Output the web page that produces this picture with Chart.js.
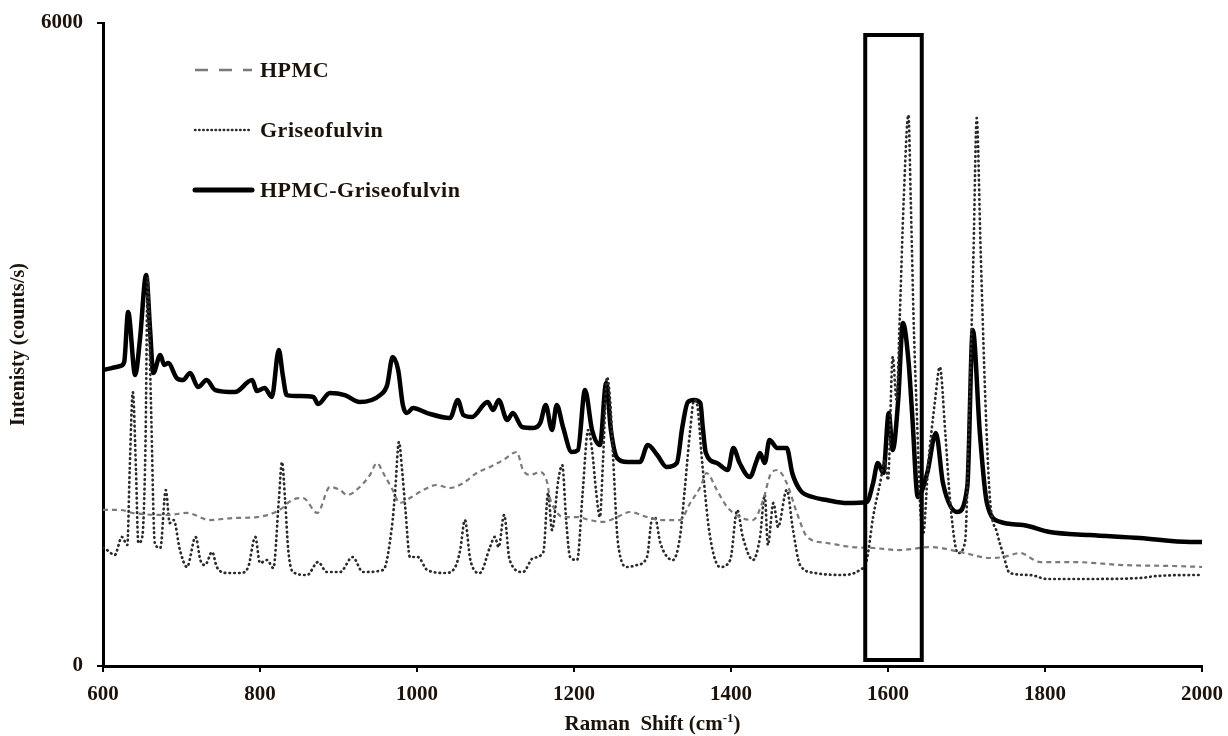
<!DOCTYPE html>
<html>
<head>
<meta charset="utf-8">
<script src="https://cdn.jsdelivr.net/npm/chart.js@4.4.0/dist/chart.umd.min.js"></script>
<style>
  html, body { margin: 0; padding: 0; background: #fff; }
  #wrap { width: 1228px; height: 736px; }
</style>
</head>
<body>
<div id="wrap"><canvas id="ramanChart" width="1228" height="736"></canvas></div>
<script>
// Raman shift (cm-1) / intensity (counts/s)
const hpmcShift = [600,622,638,682,707,736,766,796,825,841,855,873,889,902,911,927,940,949,957,969,978,991,1008,1025,1042,1059,1076,1093,1110,1127,1135,1144,1157,1166,1169,1176,1186,1204,1220,1237,1255,1271,1293,1310,1335,1348,1361,1369,1382,1395,1411,1428,1441,1450,1459,1471,1484,1497,1522,1555,1581,1615,1654,1692,1730,1747,1768,1794,1836,1899,1963,2000];
const hpmcIntensity = [1456,1456,1428,1409,1428,1362,1381,1390,1456,1549,1567,1428,1670,1642,1596,1670,1782,1894,1801,1642,1521,1567,1642,1689,1661,1707,1801,1857,1922,1997,1829,1782,1810,1707,1577,1456,1390,1390,1362,1344,1390,1437,1390,1362,1362,1521,1670,1801,1642,1484,1390,1362,1549,1782,1829,1707,1428,1204,1148,1110,1101,1082,1110,1064,1008,1017,1054,970,970,942,933,924];

const griseoShift = [600,605,615,624,631,634,638,642,645,650,654,657,661,666,673,680,685,690,698,707,718,724,730,739,745,758,775,785,794,800,809,817,824,828,832,836,842,860,874,885,902,918,931,957,968,972,977,981,985,991,1001,1013,1036,1048,1055,1061,1068,1080,1093,1099,1104,1111,1118,1135,1148,1161,1167,1172,1180,1185,1190,1195,1204,1211,1218,1223,1228,1233,1237,1242,1246,1250,1256,1268,1280,1293,1299,1303,1310,1326,1335,1341,1348,1353,1357,1363,1373,1386,1399,1408,1415,1428,1437,1443,1447,1454,1460,1471,1479,1488,1507,1539,1564,1573,1581,1590,1596,1600,1606,1611,1615,1620,1626,1629,1633,1637,1641,1645,1651,1660,1666,1673,1679,1689,1698,1704,1709,1713,1718,1724,1730,1739,1747,1755,1781,1803,1857,1921,1943,1994,2000];
const griseoIntensity = [1101,1082,1036,1204,1129,1829,2556,1829,1148,1204,2015,3620,2482,1148,1101,1642,1334,1362,1082,924,1204,989,942,1064,924,868,868,924,1204,961,989,914,1549,1903,1549,1082,877,849,970,877,877,1017,877,896,1297,1614,2090,1829,1484,1017,1017,896,868,914,1082,1362,989,868,1110,1204,1110,1409,989,877,1008,1064,1614,1269,1735,1875,1362,1017,989,1614,2202,2015,1642,1390,1922,2696,2482,1922,1148,924,942,1017,1362,1390,1148,989,1204,1642,2202,2482,2435,1922,1222,924,989,1455,1204,989,1204,1596,1129,1521,1297,1642,1269,942,868,849,896,989,1390,1707,1922,1735,2883,2482,3256,4348,5141,4348,3135,2295,1483,1241,1857,2482,2790,2174,1549,1054,1148,2482,3881,5113,3881,2482,1549,1241,1036,868,849,812,812,821,840,849,849];

const mixShift = [600,611,622,627,632,641,647,655,660,664,673,678,683,694,702,711,721,732,743,768,790,796,806,815,824,829,834,851,868,874,889,908,927,953,962,969,976,982,987,995,1013,1042,1052,1059,1070,1090,1097,1104,1115,1122,1134,1148,1157,1164,1172,1178,1186,1197,1205,1214,1223,1233,1241,1247,1255,1268,1284,1294,1306,1318,1331,1338,1345,1353,1361,1364,1368,1382,1396,1403,1411,1424,1433,1437,1443,1449,1459,1471,1478,1488,1504,1522,1548,1573,1581,1587,1594,1601,1606,1613,1619,1626,1631,1638,1650,1661,1670,1688,1701,1708,1717,1726,1743,1772,1806,1857,1921,1985,2000];
const mixIntensity = [2762,2780,2799,2836,3303,2715,3042,3648,3135,2734,2902,2808,2827,2687,2668,2734,2603,2668,2575,2556,2668,2566,2594,2510,2948,2715,2528,2519,2510,2444,2547,2528,2463,2528,2622,2883,2762,2435,2360,2407,2360,2314,2482,2342,2323,2463,2388,2482,2295,2360,2230,2221,2267,2435,2202,2435,2230,1997,2015,2575,2202,2062,2640,2202,1941,1903,1903,2062,1969,1857,1894,2230,2463,2482,2454,2230,1987,1894,1829,2034,1894,1763,1922,1987,1894,2109,2034,2034,1801,1642,1577,1549,1521,1530,1707,1894,1801,2360,2015,2482,3200,2855,2323,1577,1801,2174,1707,1437,1670,3135,2174,1521,1344,1316,1250,1222,1194,1157,1157];

const xTicks = [600, 800, 1000, 1200, 1400, 1600, 1800, 2000];
const yTicks = [0, 6000];

// highlighted band round the 1600-1640 peaks
const boxShift = [1571, 1643];
const boxIntensity = [56, 5888];

const seriesNames = ['HPMC', 'Griseofulvin', 'HPMC-Griseofulvin'];

const textColor = '#1c120a';
const serif = "'Liberation Serif', 'Times New Roman', serif";

const toPoints = (xs, ys) => xs.map((x, i) => ({ x: x, y: ys[i] }));

const boxPlugin = {
    id: 'box',
    afterDatasetsDraw(chart) {
        const { ctx, scales: { x, y } } = chart;
        const x0 = x.getPixelForValue(boxShift[0]);
        const x1 = x.getPixelForValue(boxShift[1]);
        const y0 = y.getPixelForValue(boxIntensity[1]);
        const y1 = y.getPixelForValue(boxIntensity[0]);
        ctx.save();
        ctx.strokeStyle = '#000';
        ctx.lineWidth = 4;
        ctx.strokeRect(x0, y0, x1 - x0, y1 - y0);
        ctx.restore();
    }
};

const labelsPlugin = {
    id: 'labels',
    afterDraw(chart) {
        const { ctx, chartArea } = chart;
        ctx.save();
        ctx.fillStyle = textColor;

        // legend inside the plot
        const lx = chartArea.left + 92;
        const rows = [
            { y: 70, width: 2.5, color: '#7a7a7a', dash: [13, 11], cap: 'butt' },
            { y: 130, width: 2.4, color: '#2a2a2a', dash: [0.5, 3.6], cap: 'round' },
            { y: 190, width: 5, color: '#000', dash: [], cap: 'round' }
        ];
        rows.forEach((r, i) => {
            ctx.beginPath();
            ctx.strokeStyle = r.color;
            ctx.lineWidth = r.width;
            ctx.lineCap = r.cap;
            ctx.setLineDash(r.dash);
            ctx.moveTo(lx, r.y);
            ctx.lineTo(lx + 57, r.y);
            ctx.stroke();
            ctx.setLineDash([]);
            ctx.font = 'bold 22px ' + serif;
            ctx.letterSpacing = '0.5px';
            ctx.textBaseline = 'middle';
            ctx.textAlign = 'left';
            ctx.fillText(seriesNames[i], lx + 65, r.y + 1);
        });
        ctx.letterSpacing = '0px';

        // x title with superscript
        ctx.font = 'bold 21px ' + serif;
        ctx.textBaseline = 'alphabetic';
        const main = 'Raman  Shift (cm';
        const sup = '-1';
        const end = ')';
        const wMain = ctx.measureText(main).width;
        const wEnd = ctx.measureText(end).width;
        ctx.font = 'bold 13px ' + serif;
        const wSup = ctx.measureText(sup).width;
        const total = wMain + wSup + wEnd;
        const tx = (chartArea.left + chartArea.right) / 2 - total / 2;
        const ty = 730;
        ctx.font = 'bold 21px ' + serif;
        ctx.fillText(main, tx, ty);
        ctx.font = 'bold 13px ' + serif;
        ctx.fillText(sup, tx + wMain, ty - 8);
        ctx.font = 'bold 21px ' + serif;
        ctx.fillText(end, tx + wMain + wSup, ty);

        // y title
        ctx.translate(19, (chartArea.top + chartArea.bottom) / 2);
        ctx.rotate(-Math.PI / 2);
        ctx.font = 'bold 20px ' + serif;
        ctx.textAlign = 'center';
        ctx.textBaseline = 'middle';
        ctx.fillText('Intenisty (counts/s)', 0, 0);
        ctx.restore();
    }
};

new Chart(document.getElementById('ramanChart'), {
    type: 'line',
    data: {
        datasets: [
            {
                label: seriesNames[0],
                data: toPoints(hpmcShift, hpmcIntensity),
                borderColor: '#7a7a7a',
                borderWidth: 2.2,
                borderDash: [5, 4]
            },
            {
                label: seriesNames[1],
                data: toPoints(griseoShift, griseoIntensity),
                borderColor: '#2a2a2a',
                borderWidth: 2.7,
                borderDash: [0.5, 4.3],
                borderCapStyle: 'round'
            },
            {
                label: seriesNames[2],
                data: toPoints(mixShift, mixIntensity),
                borderColor: '#000',
                borderWidth: 4.5,
                borderJoinStyle: 'round'
            }
        ]
    },
    options: {
        responsive: false,
        devicePixelRatio: 1,
        animation: false,
        elements: { point: { radius: 0 }, line: { cubicInterpolationMode: 'monotone' } },
        layout: { padding: { top: 23, right: 26, left: 0, bottom: 0 } },
        plugins: { legend: { display: false }, tooltip: { enabled: false } },
        scales: {
            x: {
                type: 'linear',
                min: xTicks[0],
                max: xTicks[xTicks.length - 1],
                afterFit(scale) {
                    scale.height = 70;
                    scale.paddingLeft = 0;
                    scale.paddingRight = 0;
                },
                afterBuildTicks(scale) { scale.ticks = xTicks.map(v => ({ value: v })); },
                ticks: {
                    color: textColor,
                    font: { family: serif, size: 21, weight: 'bold' },
                    padding: 10,
                    maxRotation: 0,
                    callback: v => String(v)
                },
                grid: { drawOnChartArea: false, drawTicks: true, tickLength: 6, color: '#000', lineWidth: 2 },
                border: { display: true, color: '#000', width: 3 }
            },
            y: {
                min: yTicks[0],
                max: yTicks[yTicks.length - 1],
                afterFit(scale) {
                    scale.width = 103;
                    scale.paddingTop = 0;
                    scale.paddingBottom = 0;
                },
                afterBuildTicks(scale) { scale.ticks = yTicks.map(v => ({ value: v })); },
                ticks: {
                    color: textColor,
                    font: { family: serif, size: 21, weight: 'bold' },
                    padding: 14,
                    callback: v => String(v)
                },
                grid: { drawOnChartArea: false, drawTicks: true, tickLength: 6, color: '#000', lineWidth: 2 },
                border: { display: true, color: '#000', width: 3 }
            }
        }
    },
    plugins: [boxPlugin, labelsPlugin]
});
</script>
</body>
</html>
